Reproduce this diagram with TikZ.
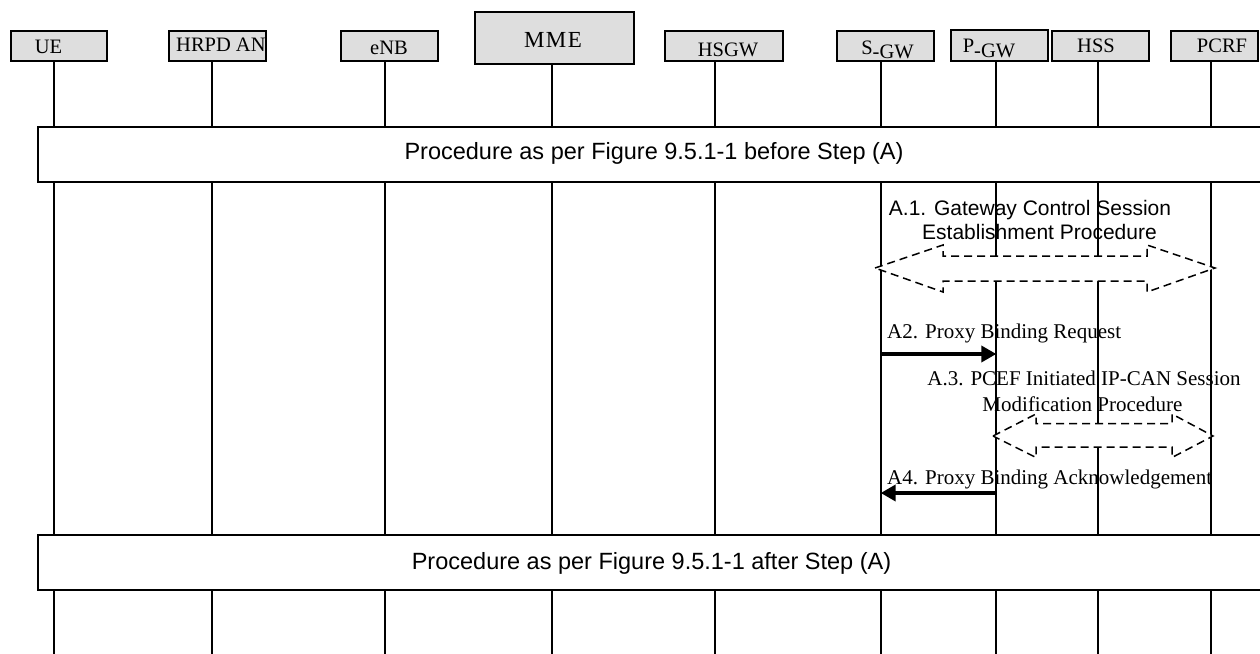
\documentclass[tikz,border=0pt]{standalone}
\usepackage{fontspec}
\setmainfont{Liberation Serif}
\newfontfamily\arialf{Liberation Sans}
\usetikzlibrary{arrows.meta}
\begin{document}
\begin{tikzpicture}[x=1bp,y=-1bp,
  ent/.style={draw=black, line width=1.8bp, fill=black!13, inner sep=0pt},
  life/.style={line width=1.8bp},
  proc/.style={draw=black, line width=1.8bp, fill=white},
  dbl/.style={draw=black, dash pattern=on 8bp off 5bp, line width=1.5bp, fill=white},
  msg/.style={line width=4.2bp, -{Triangle[length=15bp,width=16bp]}},
  hdr/.style={font=\fontsize{20.5bp}{24bp}\selectfont, inner sep=0pt},
  lbl/.style={font=\fontsize{21bp}{25bp}\selectfont, inner sep=0pt, anchor=base},
  sans/.style={font=\arialf\fontsize{21bp}{25bp}\selectfont, inner sep=0pt, anchor=base},
  ptxt/.style={font=\arialf\fontsize{23.5bp}{27bp}\selectfont, inner sep=0pt, anchor=base},
]
\useasboundingbox (0,0) rectangle (1260,654);

% header boxes
\node[ent, minimum width=96bp, minimum height=30bp] (ue) at (59,46) {};
\node[ent, minimum width=97bp, minimum height=30bp] (hrpd) at (217.5,46) {};
\node[ent, minimum width=97bp, minimum height=30bp] (enb) at (389.5,46) {};
\node[ent, minimum width=159bp, minimum height=52bp] (mme) at (554.5,38) {};
\node[ent, minimum width=118bp, minimum height=30bp] (hsgw) at (724,46) {};
\node[ent, minimum width=97bp, minimum height=30bp] (sgw) at (885.5,46) {};
\node[ent, minimum width=97bp, minimum height=31bp] (pgw) at (999.5,45.5) {};
\node[ent, minimum width=97bp, minimum height=30bp] (hss) at (1100.5,46) {};
\node[ent, minimum width=87bp, minimum height=30bp] (pcrf) at (1214.5,46) {};

% header texts
\node[hdr] (uet) at (48.5,47) {UE};
\node[hdr, anchor=west] (hrpdt) at (176,45) {HRPD AN};
\node[hdr] (enbt) at (389,48) {eNB};
\node[hdr, font=\fontsize{23bp}{26bp}\selectfont] (mmet) at (553,40) {M\kern1.5bp M\kern1.5bp E};
\node[hdr] (hsgwt) at (728,50) {HSGW};
\node[hdr] (sgwt) at (887.5,49.5) {\raisebox{4bp}{S}-GW};
\node[hdr] (pgwt) at (989,48.5) {\raisebox{5bp}{P}-GW};
\node[hdr] (hsst) at (1096,46) {HSS};
\node[hdr] (pcrft) at (1222,46) {PCRF};

% lifelines
\foreach \n/\x/\y in {ue/53.7/61, hrpd/212.3/61, enb/385/61, mme/552/64, hsgw/715/61, sgw/880.7/61, pgw/996.3/61, hss/1098/61, pcrf/1211.3/61}{
  \coordinate (\n T) at (\x,\y);
  \coordinate (\n B) at (\x,660);
  \draw[life] (\n T) -- (\n B);
}

% procedure boxes
\draw[proc] (38,127) rectangle (1275,182);
\node[ptxt] (before) at (654,160) {Procedure as per Figure 9.5.1-1 before Step (A)};
\draw[proc] (38,535) rectangle (1275,590);
\node[ptxt] (after) at (651.5,569) {Procedure as per Figure 9.5.1-1 after Step (A)};

% A.1 dashed double arrow
\draw[dbl] (875,268) -- (943,245) -- (943,256) -- (1147,256) -- (1147,245) -- (1215,268)
  -- (1147,292) -- (1147,281) -- (943,281) -- (943,292) -- cycle;
\node[sans] (a1a) at (1030,216) {A.1. Gateway Control Session};
\node[sans] (a1b) at (1039.5,240) {Establishment Procedure};

% A2
\coordinate (sgwA2) at (880.7,354);
\coordinate (pgwA2) at (996.3,354);
\draw[msg] (sgwA2) -- (pgwA2);
\node[lbl, anchor=base west] (a2) at (887,338) {A2. Proxy Binding Request};

% A.3 dashed double arrow
\draw[dbl] (993,436) -- (1036,414) -- (1036,423.5) -- (1172,423.5) -- (1172,414) -- (1213,436)
  -- (1172,457.5) -- (1172,447) -- (1036,447) -- (1036,457.5) -- cycle;
\node[lbl] (a3a) at (1084,385) {A.3. PCEF Initiated IP-CAN Session};
\node[lbl] (a3b) at (1082.5,411) {Modification Procedure};

% A4
\coordinate (pgwA4) at (996.3,493);
\coordinate (sgwA4) at (880.7,493);
\draw[msg] (pgwA4) -- (sgwA4);
\node[lbl, anchor=base west] (a4) at (887,484) {A4. Proxy Binding Acknowledgement};
\end{tikzpicture}
\end{document}
